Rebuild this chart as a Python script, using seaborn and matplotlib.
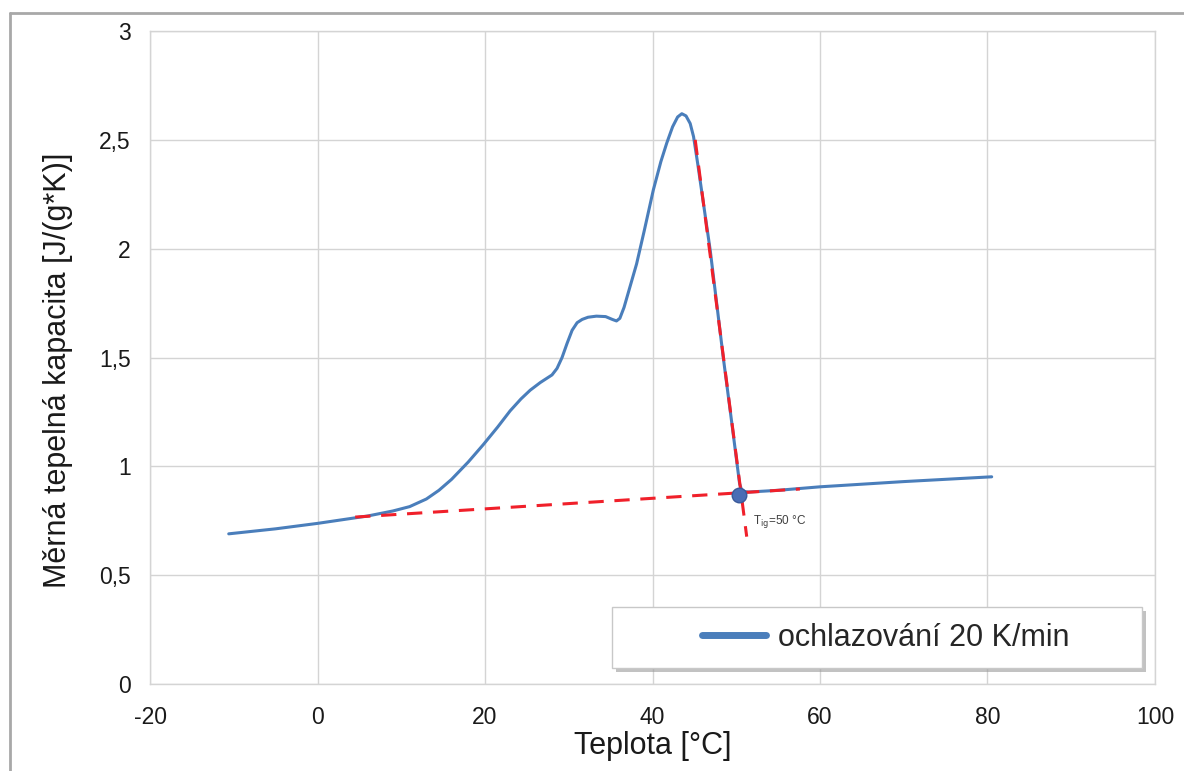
import numpy as np
import pandas as pd
import matplotlib
matplotlib.use("Agg")
import matplotlib.pyplot as plt
import seaborn as sns
from matplotlib.patches import Rectangle
from matplotlib.lines import Line2D

# DSC curve, cooling 20 K/min
teplota = [-10.6, -5, 0, 3, 6, 9, 11, 13, 14.5, 16, 18, 19.8, 21.5, 23, 24.3,
           25.4, 26.6, 28, 28.6, 29.2, 29.8, 30.4, 31.0, 31.6, 32.3, 33.3,
           34.4, 35.2, 35.7, 36.1, 36.6, 37.2, 38.1, 39.0, 40.1, 41.0, 41.7,
           42.4, 43.0, 43.5, 44.0, 44.5, 44.9, 45.4, 46.0, 46.9, 48.45, 49.5,
           50.1, 50.4, 50.7, 51.5, 55, 60, 70, 80.5]
kapacita = [0.69, 0.713, 0.738, 0.755, 0.772, 0.795, 0.815, 0.85, 0.89, 0.94,
            1.02, 1.10, 1.18, 1.255, 1.31, 1.35, 1.385, 1.42, 1.45, 1.50,
            1.565, 1.625, 1.66, 1.675, 1.685, 1.69, 1.688, 1.675, 1.668, 1.68,
            1.73, 1.81, 1.93, 2.08, 2.27, 2.40, 2.485, 2.56, 2.605, 2.62, 2.61,
            2.575, 2.515, 2.39, 2.23, 1.99, 1.50, 1.19, 1.01, 0.92, 0.885,
            0.882, 0.89, 0.906, 0.93, 0.952]

# tangents used for the onset temperature
base_x = [4.5, 57.6]
base_y = [0.767, 0.896]
steep_x = [45.1, 51.25]
steep_y = [2.5, 0.677]
onset_x = [50.3]
onset_y = [0.87]

x_ticks = [-20, 0, 20, 40, 60, 80, 100]
y_ticks = [0, 0.5, 1, 1.5, 2, 2.5, 3]
y_labels = ["0", "0,5", "1", "1,5", "2", "2,5", "3"]

sns.set_style("white")
plt.rcParams['font.family'] = ['Liberation Sans', 'DejaVu Sans']

fig = plt.figure(figsize=(11.84, 7.71), dpi=100)
ax = fig.add_axes([0.1267, 0.1128, 0.8488, 0.847])

df = pd.DataFrame({'Teplota': teplota, 'cp': kapacita})
sns.lineplot(data=df, x='Teplota', y='cp', ax=ax, color='#4a7ebb',
             linewidth=2.2, sort=False, estimator=None, zorder=3,
             label='ochlazování 20 K/min')

red = '#f0202a'
sns.lineplot(x=base_x, y=base_y, ax=ax, color=red, linewidth=2.2,
             linestyle=(0, (5, 3.5)), zorder=4, legend=False)
sns.lineplot(x=steep_x, y=steep_y, ax=ax, color=red, linewidth=2.2,
             linestyle=(0, (5, 3.5)), zorder=4, legend=False)
sns.scatterplot(x=onset_x, y=onset_y, ax=ax, s=110, color='#4a6db5',
                edgecolor='#3a5a9a', linewidth=1, zorder=5, legend=False)
ax.text(52.0, 0.745, r'T$_{\mathrm{ig}}$=50 °C', fontsize=8.5, color='#404040',
        ha='left', va='center')

ax.set_xlim(-20, 100)
ax.set_ylim(0, 3)
ax.set_xticks(x_ticks)
ax.set_xticklabels([str(t) for t in x_ticks])
ax.set_yticks(y_ticks)
ax.set_yticklabels(y_labels)
ax.grid(True, color='#d4d4d4', linewidth=1)
ax.set_axisbelow(True)
for sp in ax.spines.values():
    sp.set_color('#d4d4d4')
    sp.set_linewidth(1)
ax.tick_params(axis='both', direction='out', length=6, color='#d4d4d4',
               labelsize=16.5, labelcolor='#1a1a1a')
ax.tick_params(axis='x', pad=10)
ax.tick_params(axis='y', pad=8)
ax.set_xlabel('Teplota [°C]', fontsize=22, color='#1a1a1a', labelpad=1)
ax.set_ylabel('Měrná tepelná kapacita [J/(g*K)]', fontsize=22,
              color='#1a1a1a', labelpad=10)
ax.yaxis.set_label_coords(-0.077, 0.48)

# legend box with shadow
shadow = Rectangle((0.464, 0.019), 0.527, 0.093, transform=ax.transAxes,
                   facecolor='#9a9a9a', edgecolor='none', alpha=0.6, zorder=6)
box = Rectangle((0.46, 0.0245), 0.527, 0.093, transform=ax.transAxes,
                facecolor='white', edgecolor='#c8c8c8', linewidth=1, zorder=7)
ax.add_patch(shadow)
ax.add_patch(box)
leg = ax.legend(loc='center', bbox_to_anchor=(0.732, 0.071), frameon=False,
                fontsize=22, handlelength=2.1, handletextpad=0.4)
leg.set_zorder(8)
for h in leg.get_lines():
    h.set_linewidth(5)

# outer chart border
fig.add_artist(Line2D([0.0085, 1.0], [0.983, 0.983], color='#a8a8a8', linewidth=2))
fig.add_artist(Line2D([0.0085, 0.0085], [0.0, 0.983], color='#a8a8a8', linewidth=2))

fig.savefig('out.png', dpi=100)
